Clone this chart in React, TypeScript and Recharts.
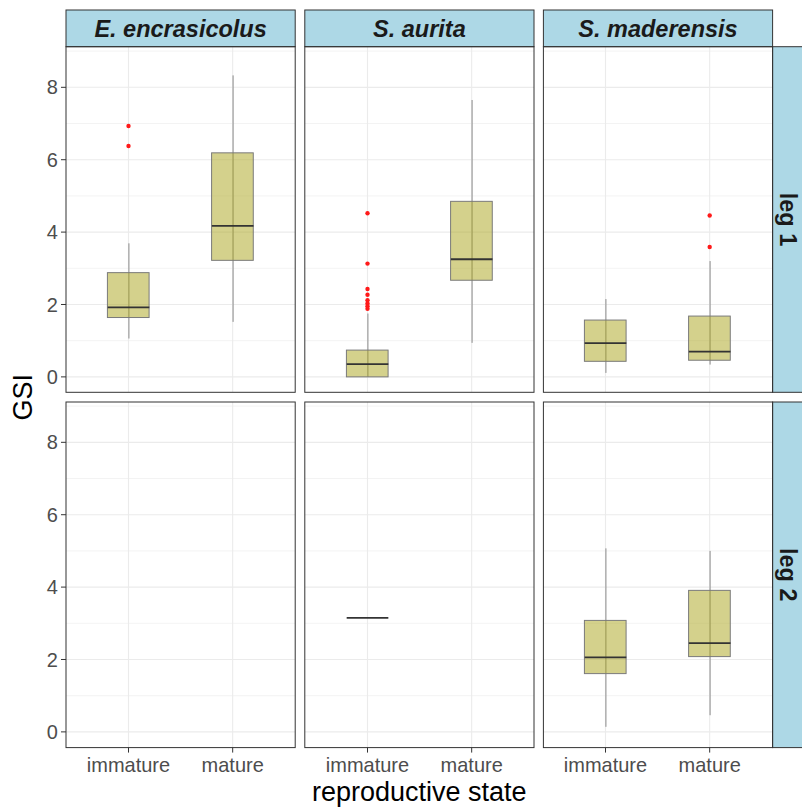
import React from 'react';
import { ComposedChart, Bar, Scatter, XAxis, YAxis, CartesianGrid } from 'recharts';

const species = ['E. encrasicolus', 'S. aurita', 'S. maderensis'];
const legs = ['leg 1', 'leg 2'];
const states = ['immature', 'mature'];

// order per leg: [E.enc imm, E.enc mat, S.aur imm, S.aur mat, S.mad imm, S.mad mat]
const leg1Low = [1.06, 1.52, 0.0, 0.94, 0.11, 0.34];
const leg1Q1 = [1.64, 3.22, 0.0, 2.67, 0.43, 0.46];
const leg1Median = [1.92, 4.17, 0.35, 3.25, 0.93, 0.7];
const leg1Q3 = [2.88, 6.19, 0.74, 4.85, 1.57, 1.68];
const leg1High = [3.69, 8.33, 1.75, 7.65, 2.15, 3.2];
const leg1Outliers = [[6.93, 6.38], [], [4.52, 3.13, 2.43, 2.27, 2.12, 2.03, 1.95, 1.88], [], [], [4.46, 3.59]];

const leg2Low = [null, null, 3.15, null, 0.14, 0.46];
const leg2Q1 = [null, null, 3.15, null, 1.61, 2.08];
const leg2Median = [null, null, 3.15, null, 2.06, 2.45];
const leg2Q3 = [null, null, 3.15, null, 3.08, 3.91];
const leg2High = [null, null, 3.15, null, 5.07, 5.0];
const leg2Outliers: number[][] = [[], [], [], [], [], []];

const yTicks = [0, 2, 4, 6, 8];
const yMinor = [1, 3, 5, 7, 9];
const xPositions = [1, 2];
const yDomain: [number, number] = [-0.434, 9.114];
const xDomain: [number, number] = [0.4, 2.6];

const FONT = '"Liberation Sans", Arial, Helvetica, sans-serif';
const PANEL_W = 229.2;
const PANEL_H = 345.6;
const COL_LEFT = [66, 304.8, 543.4];
const ROW_TOP = [46.7, 402];
const STRIP_TOP = 10;
const STRIP_H = 36.7;
const Y_AXIS_W = 66;
const X_AXIS_H = 50;
const BOX_W = (0.4 * PANEL_W) / 2.2;

const legStats = [
  { low: leg1Low, q1: leg1Q1, med: leg1Median, q3: leg1Q3, high: leg1High, out: leg1Outliers },
  { low: leg2Low, q1: leg2Q1, med: leg2Median, q3: leg2Q3, high: leg2High, out: leg2Outliers },
];

function panelRows(leg: number, sp: number) {
  const s = legStats[leg];
  return states.map((st, i) => {
    const k = sp * 2 + i;
    const lo = s.low[k];
    if (lo == null) return { x: i + 1, state: st, wh: null, box: null, med: null };
    return { x: i + 1, state: st, wh: [lo, s.high[k]], box: [s.q1[k], s.q3[k]], med: s.med[k] };
  });
}

function panelOutliers(leg: number, sp: number) {
  const s = legStats[leg];
  const pts: { x: number; y: number }[] = [];
  states.forEach((st, i) => {
    s.out[sp * 2 + i].forEach((v) => pts.push({ x: i + 1, y: v }));
  });
  return pts;
}

const WhiskerShape = (p: any) => {
  if (!p.payload || p.payload.wh == null) return <g />;
  const cx = p.x + p.width / 2;
  const y1 = p.y;
  const y2 = p.y + p.height;
  return <line x1={cx} x2={cx} y1={y1} y2={y2} stroke="#8c8c8c" strokeWidth={1} />;
};

const BoxShape = (p: any) => {
  if (!p.payload || p.payload.box == null) return <g />;
  const top = Math.min(p.y, p.y + p.height);
  const h = Math.abs(p.height);
  return (
    <rect x={p.x} y={top} width={p.width} height={h} fill="#aaa31a" fillOpacity={0.5} stroke="#7a7a7a" strokeWidth={1} />
  );
};

const MedianShape = (p: any) => {
  if (!p.payload || p.payload.med == null || p.cy == null || isNaN(p.cy)) return <g />;
  return <line x1={p.cx - BOX_W / 2} x2={p.cx + BOX_W / 2} y1={p.cy} y2={p.cy} stroke="#333333" strokeWidth={1.8} />;
};

const OutlierShape = (p: any) => {
  if (p.cy == null || isNaN(p.cy)) return <g />;
  return <circle cx={p.cx} cy={p.cy} r={2.2} fill="#ff1a1a" />;
};

function Panel({ leg, sp }: { leg: number; sp: number }) {
  const showY = sp === 0;
  const showX = leg === 1;
  const w = PANEL_W + (showY ? Y_AXIS_W : 0);
  const h = PANEL_H + (showX ? X_AXIS_H : 0);
  const left = COL_LEFT[sp] - (showY ? Y_AXIS_W : 0);
  const top = ROW_TOP[leg];
  const rows = panelRows(leg, sp);
  const outs = panelOutliers(leg, sp);
  return (
    <div style={{ position: 'absolute', left, top, width: w, height: h }}>
      <ComposedChart width={w} height={h} data={rows} margin={{ top: 0, right: 0, bottom: 0, left: 0 }}>
        <CartesianGrid horizontalValues={yMinor} vertical={false} stroke="#EBEBEB" strokeWidth={0.6} />
        <CartesianGrid horizontalValues={yTicks} verticalValues={xPositions} stroke="#EBEBEB" strokeWidth={1.1} />
        <XAxis
          type="number"
          dataKey="x"
          domain={xDomain}
          ticks={xPositions}
          allowDataOverflow
          hide={!showX}
          height={X_AXIS_H}
          axisLine={false}
          tickLine={{ stroke: '#333333' }}
          tickSize={5}
          tickMargin={5}
          interval={0}
          tickFormatter={(v: number) => states[v - 1]}
          tick={{ fontSize: 20, fill: '#4D4D4D', fontFamily: FONT }}
        />
        <XAxis xAxisId={1} type="number" dataKey="x" domain={xDomain} ticks={xPositions} allowDataOverflow hide />
        <YAxis
          type="number"
          domain={yDomain}
          ticks={yTicks}
          allowDataOverflow
          hide={!showY}
          width={Y_AXIS_W}
          axisLine={false}
          tickLine={{ stroke: '#333333' }}
          tickSize={5}
          tickMargin={3}
          interval={0}
          tick={{ fontSize: 20, fill: '#4D4D4D', fontFamily: FONT }}
        />
        <Bar dataKey="wh" barSize={1} shape={WhiskerShape} isAnimationActive={false} />
        <Bar xAxisId={1} dataKey="box" barSize={BOX_W} shape={BoxShape} isAnimationActive={false} />
        <Scatter dataKey="med" shape={MedianShape} isAnimationActive={false} />
        <Scatter data={outs} dataKey="y" shape={OutlierShape} isAnimationActive={false} />
      </ComposedChart>
    </div>
  );
}

function Overlay() {
  const stripFont = 23.5;
  return (
    <svg width={802} height={808} style={{ position: 'absolute', left: 0, top: 0, pointerEvents: 'none' }}>
      {species.map((s, c) => (
        <g key={s}>
          <rect x={COL_LEFT[c]} y={STRIP_TOP} width={PANEL_W} height={STRIP_H} fill="#ADD8E6" stroke="#333333" strokeWidth={1} />
          <text
            x={COL_LEFT[c] + PANEL_W / 2}
            y={STRIP_TOP + 26.7}
            textAnchor="middle"
            fontFamily={FONT}
            fontSize={stripFont}
            fontWeight="bold"
            fontStyle="italic"
            fill="#1A1A1A"
          >
            {s}
          </text>
        </g>
      ))}
      {legs.map((l, r) => {
        const cy = ROW_TOP[r] + PANEL_H / 2;
        const x0 = COL_LEFT[2] + PANEL_W;
        const bx = x0 + 7.8;
        return (
          <g key={l}>
            <rect x={x0} y={ROW_TOP[r]} width={STRIP_H} height={PANEL_H} fill="#ADD8E6" stroke="#333333" strokeWidth={1} />
            <text
              x={bx}
              y={cy}
              textAnchor="middle"
              transform={`rotate(90, ${bx}, ${cy})`}
              fontFamily={FONT}
              fontSize={stripFont}
              fontWeight="bold"
              fill="#1A1A1A"
            >
              {l}
            </text>
          </g>
        );
      })}
      {legs.map((l, r) =>
        species.map((s, c) => (
          <rect
            key={l + s}
            x={COL_LEFT[c]}
            y={ROW_TOP[r]}
            width={PANEL_W}
            height={PANEL_H}
            fill="none"
            stroke="#333333"
            strokeWidth={1}
          />
        ))
      )}
      <text
        x={32}
        y={(ROW_TOP[0] + ROW_TOP[1] + PANEL_H) / 2}
        textAnchor="middle"
        transform={`rotate(-90, 32, ${(ROW_TOP[0] + ROW_TOP[1] + PANEL_H) / 2})`}
        fontFamily={FONT}
        fontSize={27}
        fill="#000000"
      >
        GSI
      </text>
      <text x={(COL_LEFT[0] + COL_LEFT[2] + PANEL_W) / 2} y={801} textAnchor="middle" fontFamily={FONT} fontSize={27} fill="#000000">
        reproductive state
      </text>
    </svg>
  );
}

export default function App() {
  return (
    <div style={{ position: 'absolute', left: 0, top: 0, width: 802, height: 808, background: '#ffffff', overflow: 'hidden' }}>
      {legs.map((l, r) => species.map((s, c) => <Panel key={l + s} leg={r} sp={c} />))}
      <Overlay />
    </div>
  );
}
